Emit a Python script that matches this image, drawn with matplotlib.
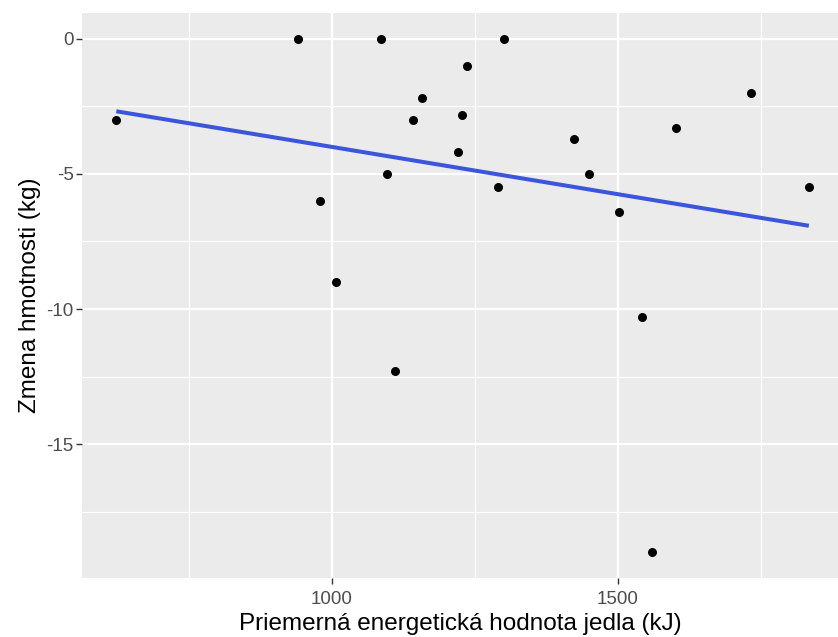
import numpy as np
import matplotlib
matplotlib.use("Agg")
import matplotlib.pyplot as plt
from matplotlib.ticker import MultipleLocator

# energy value of meal (kJ) vs weight change (kg)
energy = [623, 941, 1085, 1158, 1142, 1227, 1221, 1097, 980, 1301, 1237,
          1291, 1423, 1449, 1502, 1601, 1733, 1834, 1008, 1110, 1542, 1559]
change = [-3.0, 0.0, 0.0, -2.2, -3.0, -2.8, -4.2, -5.0, -6.0, 0.0, -1.0,
          -5.5, -3.7, -5.0, -6.4, -3.3, -2.0, -5.5, -9.0, -12.3, -10.3, -19.0]
x_ticks = [1000, 1500]
y_ticks = [0, -5, -10, -15]

plt.rcParams['font.family'] = ['Liberation Sans', 'DejaVu Sans']
plt.rcParams['axes.unicode_minus'] = False

fig = plt.figure(figsize=(8.38, 6.37), dpi=100)
ax = fig.add_axes([82 / 838, 59 / 637, 756 / 838, 565 / 637])
ax.set_facecolor("#EBEBEB")

x = np.array(energy)
y = np.array(change)
k, b = np.polyfit(x, y, 1)
xs = np.array([x.min(), x.max()])

ax.scatter(x, y, s=42, color="black", zorder=3, linewidths=0)
ax.plot(xs, k * xs + b, color="#3B55DD", lw=2.9, zorder=4, solid_capstyle="butt")

ax.set_xlim(563, 1885)
ax.set_ylim(-19.96, 0.96)
ax.set_xticks(x_ticks)
ax.set_yticks(y_ticks)
ax.xaxis.set_minor_locator(MultipleLocator(250))
ax.yaxis.set_minor_locator(MultipleLocator(2.5))
ax.grid(True, which="major", color="white", lw=1.6)
ax.grid(True, which="minor", color="white", lw=0.8)
ax.set_axisbelow(True)
for s in ax.spines.values():
    s.set_visible(False)

ax.tick_params(which="major", length=4, width=1, color="#333333",
               labelcolor="#4D4D4D", labelsize=13.5)
ax.tick_params(axis="x", pad=5)
ax.tick_params(axis="y", pad=2)
ax.tick_params(which="minor", length=0)

ax.set_xlabel("Priemerná energetická hodnota jedla (kJ)", fontsize=17.5, labelpad=4)
ax.set_ylabel("Zmena hmotnosti (kg)", fontsize=17.5, labelpad=4)

fig.savefig("out.png", dpi=100)
